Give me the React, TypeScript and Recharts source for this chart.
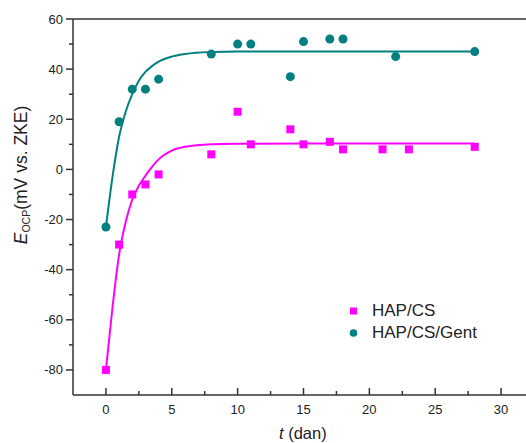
import React from 'react';
import { ComposedChart, Line, Scatter, XAxis, YAxis, Legend } from 'recharts';

// measured points
const tCs = [0, 1, 2, 3, 4, 8, 10, 11, 14, 15, 17, 18, 21, 23, 28];
const eCs = [-80, -30, -10, -6, -2, 6, 23, 10, 16, 10, 11, 8, 8, 8, 9];
const tGent = [0, 1, 2, 3, 4, 8, 10, 11, 14, 15, 17, 18, 22, 28];
const eGent = [-23, 19, 32, 32, 36, 46, 50, 50, 37, 51, 52, 52, 45, 47];

// fitted curves
const tFit = [0, 0.5, 1, 1.5, 2, 2.5, 3, 3.5, 4, 5, 6, 8, 10, 15, 20, 28];
const csFit = [-80, -55, -34, -21, -12, -6.5, -2.5, 1, 4, 7.5, 9, 10, 10.2, 10.3, 10.3, 10.3];
const gentFit = [-23, -3, 13, 23, 30, 35.4, 38.9, 41.2, 43, 45, 46, 46.8, 47, 47, 47, 47];

const xTicks = [0, 2.5, 5, 7.5, 10, 12.5, 15, 17.5, 20, 22.5, 25, 27.5, 30];
const yTicks = [-80, -70, -60, -50, -40, -30, -20, -10, 0, 10, 20, 30, 40, 50, 60];

const MAGENTA = '#ff00ff';
const TEAL = '#008080';
const AXIS = '#333';
const FONT = '"Liberation Sans", Arial, sans-serif';

const csPoints = tCs.map((t, i) => ({ t, e: eCs[i] }));
const gentPoints = tGent.map((t, i) => ({ t, e: eGent[i] }));
const csCurve = tFit.map((t, i) => ({ t, e: csFit[i] }));
const gentCurve = tFit.map((t, i) => ({ t, e: gentFit[i] }));

const XTick = (props: any) => {
  const { x, y, payload } = props;
  const major = payload.value % 5 === 0;
  return (
    <g>
      <line x1={x} x2={x} y1={y} y2={y - (major ? 7 : 4)} stroke={AXIS} strokeWidth={1.5} />
      {major && (
        <text x={x} y={y + 19} textAnchor="middle" fontSize={13} fill="#222" fontFamily={FONT}>
          {payload.value}
        </text>
      )}
    </g>
  );
};

const YTick = (props: any) => {
  const { x, y, payload } = props;
  const major = payload.value % 20 === 0;
  return (
    <g>
      <line x1={x} x2={x - (major ? 7 : 4)} y1={y} y2={y} stroke={AXIS} strokeWidth={1.5} />
      {major && (
        <text x={x - 10} y={y + 4.5} textAnchor="end" fontSize={13} fill="#222" fontFamily={FONT}>
          {payload.value}
        </text>
      )}
    </g>
  );
};

const Square = (props: any) => (
  <rect x={props.cx - 4} y={props.cy - 4} width={8} height={8} fill={MAGENTA} />
);
const Dot = (props: any) => <circle cx={props.cx} cy={props.cy} r={4.5} fill={TEAL} />;

const LegendBox = (props: any) => (
  <div style={{ fontFamily: FONT, fontSize: 17, color: '#222' }}>
    {(props.payload || [])
      .filter((entry: any) => entry.type !== 'none')
      .map((entry: any) => (
        <div key={entry.value} style={{ display: 'flex', alignItems: 'center', height: 22 }}>
          <svg width={26} height={22}>
            {entry.value === 'HAP/CS' ? (
              <rect x={4} y={7.5} width={7} height={7} fill={MAGENTA} />
            ) : (
              <circle cx={7.5} cy={11} r={3.8} fill={TEAL} />
            )}
          </svg>
          <span>{entry.value}</span>
        </div>
      ))}
  </div>
);

const App: React.FC = () => (
  <div
    style={{
      position: 'fixed',
      left: 0,
      top: 0,
      width: 526,
      height: 443,
      overflow: 'hidden',
      background: '#fff',
      fontFamily: FONT,
    }}
  >
    <ComposedChart width={534} height={443} margin={{ top: 18, right: 0, left: 72, bottom: 47 }}>
      <XAxis
        dataKey="t"
        type="number"
        domain={[-2.5, 32.5]}
        ticks={xTicks}
        interval={0}
        height={1}
        tickSize={0}
        tickMargin={0}
        tickLine={false}
        tick={<XTick />}
        axisLine={{ stroke: AXIS, strokeWidth: 1.5 }}
        allowDataOverflow
        label={{
          content: () => (
            <text x={279} y={439} fontSize={16.5} fill="#222" fontFamily={FONT}>
              <tspan fontStyle="italic">t</tspan>
              <tspan> (dan)</tspan>
            </text>
          ),
        }}
      />
      <XAxis
        xAxisId="top"
        orientation="top"
        type="number"
        domain={[-2.5, 32.5]}
        height={1}
        tick={false}
        tickLine={false}
        axisLine={{ stroke: AXIS, strokeWidth: 1.5 }}
      />
      <YAxis
        type="number"
        domain={[-90, 60]}
        ticks={yTicks}
        interval={0}
        width={1}
        tickSize={0}
        tickMargin={0}
        tickLine={false}
        tick={<YTick />}
        axisLine={{ stroke: AXIS, strokeWidth: 1.5 }}
        allowDataOverflow
        label={{
          content: () => (
            <text
              x={27}
              y={175}
              transform="rotate(-90 27 175)"
              textAnchor="middle"
              fontSize={17.5}
              fill="#222"
              fontFamily={FONT}
            >
              <tspan fontStyle="italic">E</tspan>
              <tspan fontSize={10.5} dy={3}>OCP</tspan>
              <tspan dy={-3}>(mV vs. ZKE)</tspan>
            </text>
          ),
        }}
      />
      <Line
        data={csCurve}
        dataKey="e"
        type="monotone"
        stroke={MAGENTA}
        strokeWidth={2}
        dot={false}
        legendType="none"
        isAnimationActive={false}
      />
      <Line
        data={gentCurve}
        dataKey="e"
        type="monotone"
        stroke={TEAL}
        strokeWidth={2}
        dot={false}
        legendType="none"
        isAnimationActive={false}
      />
      <Scatter name="HAP/CS" data={csPoints} dataKey="e" fill={MAGENTA} shape={<Square />} isAnimationActive={false} />
      <Scatter name="HAP/CS/Gent" data={gentPoints} dataKey="e" fill={TEAL} shape={<Dot />} isAnimationActive={false} />
      <Legend
        layout="vertical"
        align="center"
        verticalAlign="middle"
        content={<LegendBox />}
        wrapperStyle={{ position: 'absolute', left: 346, top: 300, width: 170 }}
      />
    </ComposedChart>
  </div>
);

export default App;
